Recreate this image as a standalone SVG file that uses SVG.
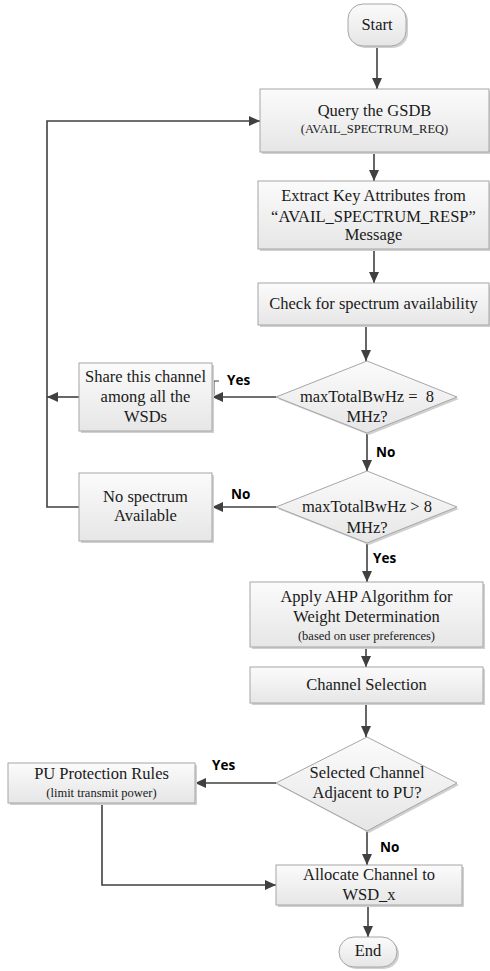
<svg xmlns="http://www.w3.org/2000/svg" width="490" height="971" viewBox="0 0 490 971">
<defs>
<linearGradient id="g" x1="0" y1="0" x2="0" y2="1">
<stop offset="0" stop-color="#fbfbfb"/>
<stop offset="1" stop-color="#e6e6e6"/>
</linearGradient>
<marker id="ah" markerUnits="userSpaceOnUse" markerWidth="12" markerHeight="10" refX="11" refY="5" orient="auto">
<path d="M0,0 L11,5 L0,10 Z" fill="#404040"/>
</marker>
</defs>
<style>
.box{fill:url(#g);stroke:#a6a6a6;stroke-width:1}
.sh{fill:#d0d0d0;stroke:none}
.t{font-family:"Liberation Serif","Times New Roman",serif;font-size:16.5px;fill:#1a1a1a;text-anchor:middle;white-space:pre}
.s{font-family:"Liberation Serif","Times New Roman",serif;font-size:12.5px;fill:#1a1a1a;text-anchor:middle}
.lab{font-family:"Open Sans","Liberation Sans",sans-serif;font-size:13.5px;font-weight:bold;fill:#000}
.c{fill:none;stroke:#404040;stroke-width:1.6}
.ca{fill:none;stroke:#404040;stroke-width:1.6;marker-end:url(#ah)}
</style>

<g id="connectors">
<path class="ca" d="M377,46 V89"/>
<path class="ca" d="M374,152 V181"/>
<path class="ca" d="M374,249 V283"/>
<path class="ca" d="M366,325 V361"/>
<path class="ca" d="M276,397 H212"/>
<path class="ca" d="M79,397 H47"/>
<path class="ca" d="M367,433 V471"/>
<path class="ca" d="M276,507 H212"/>
<path class="ca" d="M79,507 H47 V121 H260"/>
<path class="ca" d="M367,543 V582"/>
<path class="ca" d="M366,647 V667"/>
<path class="ca" d="M366,703 V737"/>
<path class="ca" d="M276,783 H195"/>
<path class="ca" d="M367,831 V865"/>
<path class="ca" d="M102,803 V885 H276"/>
<path class="ca" d="M368,905 V937"/>
<path fill="none" stroke="#404040" stroke-width="1" d="M219,381 H214 V395"/>
<text class="lab" x="227" y="385">Yes</text>
<text class="lab" x="376" y="457">No</text>
<text class="lab" x="231" y="499">No</text>
<text class="lab" x="373" y="563">Yes</text>
<text class="lab" x="212" y="770">Yes</text>
<text class="lab" x="380" y="852">No</text>
</g>

<g id="start">
<rect class="sh" x="350" y="6" width="58" height="42" rx="15"/>
<rect class="box" x="348" y="4" width="58" height="42" rx="15"/>
<text class="t" x="377" y="30">Start</text>
</g>

<g id="query">
<rect class="sh" x="262" y="91" width="229" height="63"/>
<rect class="box" x="260" y="89" width="229" height="63"/>
<text class="t" x="374.5" y="116">Query the GSDB</text>
<text class="s" x="374.5" y="133">(AVAIL_SPECTRUM_REQ)</text>
</g>

<g id="extract">
<rect class="sh" x="260" y="183" width="231" height="68"/>
<rect class="box" x="258" y="181" width="231" height="68"/>
<text class="t" x="373.5" y="201">Extract Key Attributes from</text>
<text class="t" x="373.5" y="222">“AVAIL_SPECTRUM_RESP”</text>
<text class="t" x="373.5" y="240">Message</text>
</g>

<g id="check">
<rect class="sh" x="260" y="285" width="231" height="42"/>
<rect class="box" x="258" y="283" width="231" height="42"/>
<text class="t" x="373.5" y="309">Check for spectrum availability</text>
</g>

<g id="decision1">
<polygon class="sh" points="369,363 459,399 369,435 278,399"/>
<polygon class="box" points="367,361 457,397 367,433 276,397"/>
<text class="t" x="367" y="402">maxTotalBwHz =  8</text>
<text class="t" x="367" y="422">MHz?</text>
</g>

<g id="share">
<rect class="sh" x="81" y="365" width="133" height="68"/>
<rect class="box" x="79" y="363" width="133" height="68"/>
<text class="t" x="145.5" y="382">Share this channel</text>
<text class="t" x="145.5" y="402">among all the</text>
<text class="t" x="145.5" y="422">WSDs</text>
</g>

<g id="decision2">
<polygon class="sh" points="369,473 459,509 369,545 278,509"/>
<polygon class="box" points="367,471 457,507 367,543 276,507"/>
<text class="t" x="367" y="512">maxTotalBwHz &gt; 8</text>
<text class="t" x="367" y="533">MHz?</text>
</g>

<g id="nospectrum">
<rect class="sh" x="81" y="475" width="133" height="68"/>
<rect class="box" x="79" y="473" width="133" height="68"/>
<text class="t" x="145.5" y="502">No spectrum</text>
<text class="t" x="145.5" y="521">Available</text>
</g>

<g id="ahp">
<rect class="sh" x="252" y="584" width="233" height="65"/>
<rect class="box" x="250" y="582" width="233" height="65"/>
<text class="t" x="366.5" y="602">Apply AHP Algorithm for</text>
<text class="t" x="366.5" y="622">Weight Determination</text>
<text class="s" x="366.5" y="640">(based on user preferences)</text>
</g>

<g id="channelselection">
<rect class="sh" x="252" y="669" width="233" height="36"/>
<rect class="box" x="250" y="667" width="233" height="36"/>
<text class="t" x="366.5" y="690">Channel Selection</text>
</g>

<g id="decision3">
<polygon class="sh" points="369,739 459,785 369,833 278,785"/>
<polygon class="box" points="367,737 457,783 367,831 276,783"/>
<text class="t" x="367" y="778">Selected Channel</text>
<text class="t" x="367" y="798">Adjacent to PU?</text>
</g>

<g id="pu">
<rect class="sh" x="10" y="765" width="187" height="40"/>
<rect class="box" x="8" y="763" width="187" height="40"/>
<text class="t" x="101.5" y="779">PU Protection Rules</text>
<text class="s" x="101.5" y="797">(limit transmit power)</text>
</g>

<g id="allocate">
<rect class="sh" x="278" y="867" width="186" height="40"/>
<rect class="box" x="276" y="865" width="186" height="40"/>
<text class="t" x="369" y="880">Allocate Channel to</text>
<text class="t" x="369" y="900">WSD_x</text>
</g>

<g id="end">
<rect class="sh" x="341" y="939" width="58" height="30" rx="15"/>
<rect class="box" x="339" y="937" width="58" height="30" rx="15"/>
<text class="t" x="368" y="956">End</text>
</g>
</svg>
